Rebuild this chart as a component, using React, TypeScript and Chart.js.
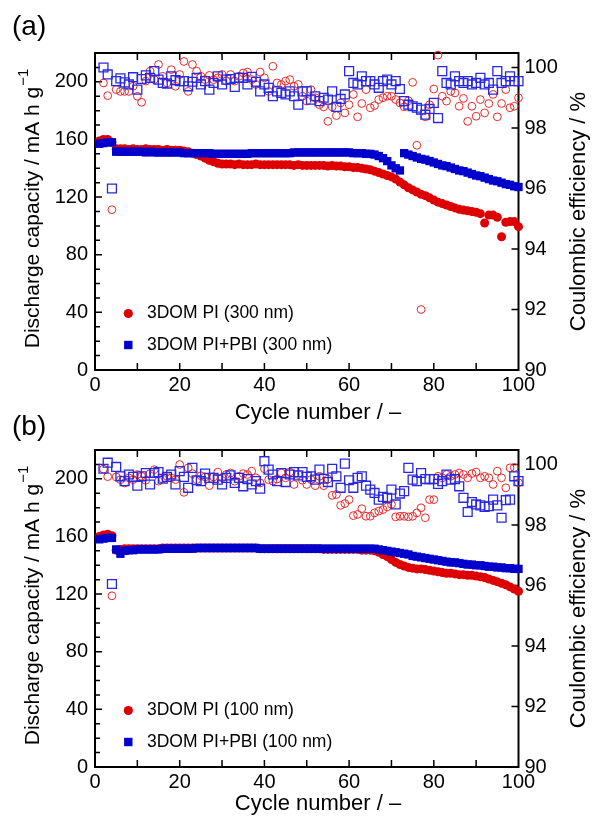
import React, { useEffect, useRef } from 'react';
import { Chart, registerables } from 'chart.js';
Chart.register(...registerables);

const cycles: number[] = Array.from({ length: 100 }, (_, i) => i + 1);

const xTickValues = [0, 20, 40, 60, 80, 100];
const yTickValues = [0, 40, 80, 120, 160, 200];
const y2TickValues = [90, 92, 94, 96, 98, 100];

// Panel (a): 300 nm
const capPI_a = [159, 160, 160, 158, 153.5, 153.5, 153.5, 153, 153.5, 153,
  153, 153.5, 153, 153, 153, 152.5, 153, 152.5, 152.5, 152.5,
  152, 151.5, 150.5, 149.5, 148.5, 147, 145.5, 144.5, 143.5, 143,
  143, 143, 142.5, 143, 142.5, 142.5, 142.5, 143, 142.5, 142.5,
  142.5, 142.5, 142.5, 142.5, 142.5, 142.5, 142, 142.5, 142, 142,
  142, 142, 142, 142, 141.5, 142, 141.5, 141.5, 141, 141,
  140.5, 140.5, 140, 139.5, 139, 138, 137, 136, 135, 134,
  132.5, 130.5, 128.5, 126.5, 125, 123.5, 122, 121, 119.5, 118,
  116.5, 115.5, 114.5, 113.5, 112.5, 111.5, 111, 110.5, 110, 109.5,
  108.5, 102, 107.5, 107.5, 106, 92.5, 102.5, 103, 103, 99.5];
const capPBI_a = [157, 157.5, 158, 158, 151.5, 151.5, 151.5, 151.5, 151.5, 151.5,
  151.5, 151, 151.5, 151, 151, 151, 151, 151, 151, 151,
  150.5, 150.5, 150.5, 150.5, 150.5, 150.5, 150.5, 150, 150, 150,
  150, 150, 150, 150, 150, 150, 150.5, 150.5, 150.5, 150.5,
  150.5, 150.5, 150.5, 150.5, 150.5, 150.5, 151, 151, 151, 151,
  151, 151, 151, 151, 151, 151, 151, 151, 151, 151,
  150.5, 150.5, 150.5, 150, 150, 149.5, 148.5, 147, 145, 142,
  140, 138.5, 150.5, 149.5, 148.5, 147.5, 146.5, 146, 145, 144,
  143, 142, 141.5, 140.5, 139.5, 138.5, 138, 137, 136, 135,
  134.5, 133.5, 132.5, 131.5, 131, 130, 129, 128.5, 127.5, 127];
const cePI_a = [null, 99.49, 99.07, 95.3, 99.27, 99.21, 99.21, 99.21, 99.38, 99.05,
  98.85, 99.55, 99.88, 99.60, 100.10, 99.71, 99.49, 99.93, 99.38, 99.77,
  100.2, 99.21, 100.10, 99.88, 99.71, 99.60, 99.74, 99.60, 99.66, 99.77,
  99.55, 99.77, 99.55, 99.71, 99.82, 99.85, 99.60, 99.44, 99.85, 99.66,
  99.21, 100.04, 99.49, 99.44, 99.55, 99.60, 99.38, 99.44, 99.05, 98.89,
  99.27, 99.00, 98.77, 98.70, 98.22, 98.70, 98.41, 98.83, 98.50, 98.77,
  99.11, 98.37, 98.81, 99.27, 98.67, 98.74, 98.94, 99.00, 99.05, 99.05,
  98.94, 98.83, 98.70, 98.90, 99.51, 97.43, 92.0, 98.37, 98.77, 99.29,
  100.41, 99.05, 98.89, 99.21, 99.16, 98.72, 98.98, 98.22, 98.72, 98.39,
  98.94, 98.50, 98.81, 99.11, 98.37, 98.81, 99.27, 98.67, 98.72, 99.00];
const cePBI_a = [null, 100.0, 99.77, 96.0, 99.55, 99.64, 99.51, 99.44, 99.68, 99.27,
  99.62, 99.74, 99.66, 99.88, 99.60, 99.49, 99.47, 99.71, 99.58, 99.55,
  99.55, 99.38, 99.53, 99.66, 99.44, 99.55, 99.27, 99.49, 99.71, 99.44,
  99.60, 99.62, 99.36, 99.66, 99.66, 99.44, 99.69, 99.53, 99.21, 99.44,
  99.33, 99.05, 99.21, 99.16, 99.11, 99.21, 99.05, 98.77, 99.21, 99.21,
  98.94, 99.05, 98.89, 99.00, 98.94, 99.21, 98.70, 98.96, 99.11, 99.88,
  99.49, 99.44, 99.71, 99.55, 99.55, 99.44, 99.33, 99.55, 99.60, 99.44,
  99.55, 99.29, 98.89, 98.77, 98.72, 98.67, 98.61, 98.44, 98.63, 98.83,
  98.33, 99.88, 99.49, 99.44, 99.71, 99.55, 99.49, 99.55, 99.44, 99.49,
  99.66, 99.44, 99.49, 99.27, 99.88, 99.49, 99.55, 99.71, 99.55, 99.55];

// Panel (b): 100 nm
const capPI_b = [160, 161, 161.5, 160.5, 150.5, 151, 151.5, 151.5, 151.5, 151.5,
  151.5, 151.5, 151.5, 151.5, 151.5, 152, 152, 152, 152, 152,
  152, 152, 152, 152, 152, 152, 152, 152, 152, 152,
  152, 152, 152, 152, 152, 152, 152, 152, 151.5, 151.5,
  151.5, 151.5, 151.5, 151.5, 151.5, 151.5, 151.5, 151.5, 151.5, 151.5,
  151.5, 151.5, 151.5, 151, 151, 151, 151, 151, 151, 151,
  151, 151, 150.5, 150.5, 150.5, 150, 149, 147.5, 146, 144,
  142, 140.5, 139.5, 138.5, 138, 137.5, 137.5, 137, 136.5, 136,
  135.5, 135, 134.5, 134.5, 134, 133.5, 133.5, 133, 133, 132.5,
  132, 131.5, 130.5, 129.5, 128.5, 127.5, 126.5, 125, 123.5, 122];
const capPBI_b = [158, 158.5, 159, 159, 151, 148, 150, 150.5, 150.5, 151,
  151, 151, 151, 151, 151, 151.5, 151.5, 151.5, 151.5, 151.5,
  151.5, 151.5, 151.5, 152, 152, 152, 152, 152, 152, 152,
  152, 152, 152, 152, 152, 152, 152, 152, 151.5, 151.5,
  151.5, 151.5, 151.5, 151.5, 151.5, 151.5, 151.5, 151.5, 151.5, 151.5,
  151.5, 151.5, 151.5, 151.5, 151.5, 151.5, 151.5, 151.5, 151.5, 151.5,
  151.5, 151.5, 151.5, 151.5, 151.5, 151.5, 151, 150.5, 150, 149.5,
  149, 148.5, 148, 147.5, 146.5, 146, 145.5, 145, 144.5, 144,
  143.5, 143, 142.5, 142, 142, 141.5, 141, 140.5, 140.5, 140,
  140, 139.5, 139, 139, 138.5, 138.5, 138, 138, 137.5, 137.5];
const cePI_b = [null, 99.85, 99.60, 95.66, 99.59, 99.50, 99.39, 99.56, 99.50, 99.67,
  99.61, 99.48, 99.70, 99.83, 99.45, 99.52, 99.61, 99.56, 99.50, 100.0,
  99.08, 99.89, 99.70, 99.50, 99.63, 99.59, 99.30, 99.59, 99.75, 99.56,
  99.67, 99.72, 99.45, 99.61, 99.70, 99.67, 99.78, 99.56, 99.39, 99.86,
  99.50, 99.45, 99.52, 99.72, 99.56, 99.75, 99.34, 99.67, 99.48, 99.34,
  99.50, 99.30, 99.61, 99.30, 99.52, 98.98, 99.01, 98.65, 98.71, 98.84,
  98.31, 98.35, 98.54, 98.29, 98.29, 98.40, 98.46, 98.51, 98.60, 98.68,
  98.27, 98.29, 98.29, 98.27, 98.29, 98.40, 98.57, 98.24, 98.84, 98.84,
  99.61, 99.56, 99.67, 99.61, 99.67, 99.72, 99.67, 99.56, 99.70, 99.75,
  99.56, 99.61, 99.56, 99.34, 99.78, 99.56, 99.23, 99.89, 99.90, 99.40];
const cePBI_b = [null, 99.86, 100.06, 96.05, 99.92, 99.61, 99.45, 99.67, 99.59, 99.30,
  99.61, 99.72, 99.34, 99.72, 99.75, 99.53, 99.59, 99.67, 99.34, 99.78,
  99.59, 99.23, 99.89, 99.48, 99.45, 99.70, 99.56, 99.56, 99.50, 99.34,
  99.56, 99.64, 99.39, 99.56, 99.28, 99.52, 99.34, 99.45, 99.20, 100.11,
  99.83, 99.67, 99.45, 99.72, 99.42, 99.67, 99.75, 99.64, 99.75, 99.59,
  99.61, 99.50, 99.83, 99.53, 99.42, 99.86, 99.61, 99.23, 100.03, 99.48,
  99.23, 99.56, 99.61, 99.30, 99.17, 99.06, 98.84, 98.93, 98.90, 99.17,
  98.68, 99.04, 99.12, 99.89, 99.50, 99.45, 99.72, 99.52, 99.52, 99.52,
  99.36, 99.45, 99.67, 99.50, 99.52, 99.28, 98.90, 98.43, 98.76, 98.68,
  98.65, 98.60, 98.62, 98.84, 98.65, 98.24, 98.82, 98.84, 99.61, 99.45];

const FONT = '"Liberation Sans", Arial, Helvetica, sans-serif';
const RED = 'rgb(222,0,0)';
const BLUE = 'rgb(0,0,205)';
const RED_OPEN = 'rgb(235,40,40)';
const BLUE_OPEN = 'rgb(40,40,225)';
const W = 592;
const H = 426;

type Spec = {
  label: string;
  leg1: string;
  leg2: string;
  capPI: number[];
  capPBI: number[];
  cePI: (number | null)[];
  cePBI: (number | null)[];
  labelY: number;
  xTitleY: number;
};

function pts(vals: (number | null)[]) {
  const out: { x: number; y: number }[] = [];
  vals.forEach((v, i) => {
    if (v !== null && v !== undefined) out.push({ x: cycles[i], y: v });
  });
  return out;
}

function makeDecor(spec: Spec) {
  return {
    id: 'decor',
    beforeDatasetsDraw(chart: any) {
      const ctx = chart.ctx;
      const { left, right, top, bottom } = chart.chartArea;
      const xs = chart.scales.x, yl = chart.scales.y, yr = chart.scales.y2;
      ctx.save();
      ctx.strokeStyle = '#000';
      ctx.lineWidth = 2;
      ctx.strokeRect(left, top, right - left, bottom - top);
      ctx.lineWidth = 1.5;
      ctx.beginPath();
      for (let v = 10; v < 100; v += 10) {
        const px = xs.getPixelForValue(v);
        ctx.moveTo(px, bottom); ctx.lineTo(px, bottom - 7);
        ctx.moveTo(px, top); ctx.lineTo(px, top + 7);
      }
      for (let v = 10; v < 220; v += 10) {
        const py = yl.getPixelForValue(v);
        const len = v % 40 === 0 ? 7 : 5;
        ctx.moveTo(left, py); ctx.lineTo(left + len, py);
      }
      for (let v = 92; v <= 100; v += 2) {
        const py = yr.getPixelForValue(v);
        ctx.moveTo(right, py); ctx.lineTo(right - 7, py);
      }
      ctx.stroke();
      ctx.restore();
    },
    afterDraw(chart: any) {
      const ctx = chart.ctx;
      const { left, right, top, bottom } = chart.chartArea;
      ctx.save();
      ctx.fillStyle = '#000';
      // panel label
      ctx.font = `28px ${FONT}`;
      ctx.textAlign = 'left';
      ctx.textBaseline = 'middle';
      ctx.fillText(spec.label, 12, spec.labelY);
      // x title
      ctx.font = `22px ${FONT}`;
      ctx.textAlign = 'center';
      ctx.fillText('Cycle number / \u2013', 318, spec.xTitleY);
      // left title
      const cy = (top + bottom) / 2;
      ctx.save();
      ctx.translate(33, cy - 3);
      ctx.rotate(-Math.PI / 2);
      ctx.font = `21px ${FONT}`;
      const main = 'Discharge capacity / mA h g';
      const w1 = ctx.measureText(main).width;
      ctx.font = `15px ${FONT}`;
      const sup = '\u22121';
      const w2 = ctx.measureText(sup).width;
      const tot = w1 + 1 + w2;
      ctx.textAlign = 'left';
      ctx.font = `21px ${FONT}`;
      ctx.fillText(main, -tot / 2, 0);
      ctx.font = `15px ${FONT}`;
      ctx.fillText(sup, -tot / 2 + w1 + 1, -9);
      ctx.restore();
      // right title
      ctx.save();
      ctx.translate(579, cy);
      ctx.rotate(-Math.PI / 2);
      ctx.font = `22px ${FONT}`;
      ctx.textAlign = 'center';
      ctx.textBaseline = 'middle';
      ctx.fillText('Coulombic efficiency / %', 0, 0);
      ctx.restore();
      // legend
      const lx = 128.3;
      const ly1 = 313.5, ly2 = 345;
      ctx.fillStyle = RED;
      ctx.beginPath();
      ctx.arc(lx, ly1, 4.6, 0, Math.PI * 2);
      ctx.fill();
      ctx.fillStyle = BLUE;
      ctx.fillRect(lx - 4.2, ly2 - 4.2, 8.4, 8.4);
      ctx.fillStyle = '#000';
      ctx.font = `17.5px ${FONT}`;
      ctx.textAlign = 'left';
      ctx.textBaseline = 'middle';
      ctx.fillText(spec.leg1, 147, ly1);
      ctx.fillText(spec.leg2, 147, ly2);
      ctx.restore();
    },
  };
}

function Panel({ spec, top }: { spec: Spec; top: number }) {
  const ref = useRef<HTMLCanvasElement | null>(null);
  useEffect(() => {
    if (!ref.current) return;
    const tickFont = { family: FONT, size: 20 };
    const chart = new Chart(ref.current, {
      type: 'scatter',
      data: {
        datasets: [
          {
            label: spec.leg2, data: pts(spec.capPBI), yAxisID: 'y', showLine: false,
            pointStyle: 'rect', pointRadius: 5.9, pointBackgroundColor: BLUE, pointBorderColor: BLUE,
            pointBorderWidth: 0, order: 1, clip: false,
          } as any,
          {
            label: spec.leg1, data: pts(spec.capPI), yAxisID: 'y', showLine: false,
            pointStyle: 'circle', pointRadius: 4.5, pointBackgroundColor: RED, pointBorderColor: RED,
            pointBorderWidth: 0, order: 2, clip: false,
          } as any,
          {
            label: 'CE PBI', data: pts(spec.cePBI), yAxisID: 'y2', showLine: false,
            pointStyle: 'rect', pointRadius: 6.3, pointBackgroundColor: 'rgba(0,0,0,0)', pointBorderColor: BLUE_OPEN,
            pointBorderWidth: 1.3, order: 3, clip: false,
          } as any,
          {
            label: 'CE PI', data: pts(spec.cePI), yAxisID: 'y2', showLine: false,
            pointStyle: 'circle', pointRadius: 3.9, pointBackgroundColor: 'rgba(0,0,0,0)', pointBorderColor: RED_OPEN,
            pointBorderWidth: 1, order: 4, clip: false,
          } as any,
        ],
      },
      options: {
        animation: false,
        responsive: false,
        devicePixelRatio: 1,
        events: [],
        layout: { padding: { top: 53, left: 0, right: 0, bottom: 0 } },
        plugins: { legend: { display: false }, tooltip: { enabled: false } },
        scales: {
          x: {
            type: 'linear', position: 'bottom', min: 0, max: 100,
            grid: { display: false, drawTicks: false }, border: { display: false },
            ticks: { font: tickFont, color: '#000', padding: 3, maxRotation: 0, autoSkip: false },
            afterBuildTicks: (s: any) => { s.ticks = xTickValues.map((v) => ({ value: v })); },
            afterFit: (s: any) => { s.height = H - 370; },
          },
          y: {
            type: 'linear', position: 'left', min: 0, max: 220,
            grid: { display: false, drawTicks: false }, border: { display: false },
            ticks: { font: tickFont, color: '#000', padding: 7, autoSkip: false },
            afterBuildTicks: (s: any) => { s.ticks = yTickValues.map((v) => ({ value: v })); },
            afterFit: (s: any) => { s.width = 95; },
          },
          y2: {
            type: 'linear', position: 'right', min: 90, max: 100.48,
            grid: { display: false, drawTicks: false }, border: { display: false },
            ticks: { font: tickFont, color: '#000', padding: 6, autoSkip: false },
            afterBuildTicks: (s: any) => { s.ticks = y2TickValues.map((v) => ({ value: v })); },
            afterFit: (s: any) => { s.width = W - 518.5; },
          },
        },
      } as any,
      plugins: [makeDecor(spec)],
    });
    return () => chart.destroy();
  }, [spec]);
  return (
    <canvas
      ref={ref}
      width={W}
      height={H}
      style={{ position: 'absolute', left: 0, top, width: W, height: H }}
    />
  );
}

const specA: Spec = {
  label: '(a)', leg1: '3DOM PI (300 nm)', leg2: '3DOM PI+PBI (300 nm)',
  capPI: capPI_a, capPBI: capPBI_a, cePI: cePI_a, cePBI: cePBI_a, labelY: 27, xTitleY: 413,
};
const specB: Spec = {
  label: '(b)', leg1: '3DOM PI (100 nm)', leg2: '3DOM PI+PBI (100 nm)',
  capPI: capPI_b, capPBI: capPBI_b, cePI: cePI_b, cePBI: cePBI_b, labelY: 30, xTitleY: 407,
};

export default function App() {
  useEffect(() => {
    document.body.style.margin = '0';
    document.body.style.background = '#fff';
  }, []);
  return (
    <div style={{ position: 'relative', width: W, height: 823, background: '#fff', overflow: 'hidden' }}>
      <Panel spec={specA} top={0} />
      <Panel spec={specB} top={397} />
    </div>
  );
}
